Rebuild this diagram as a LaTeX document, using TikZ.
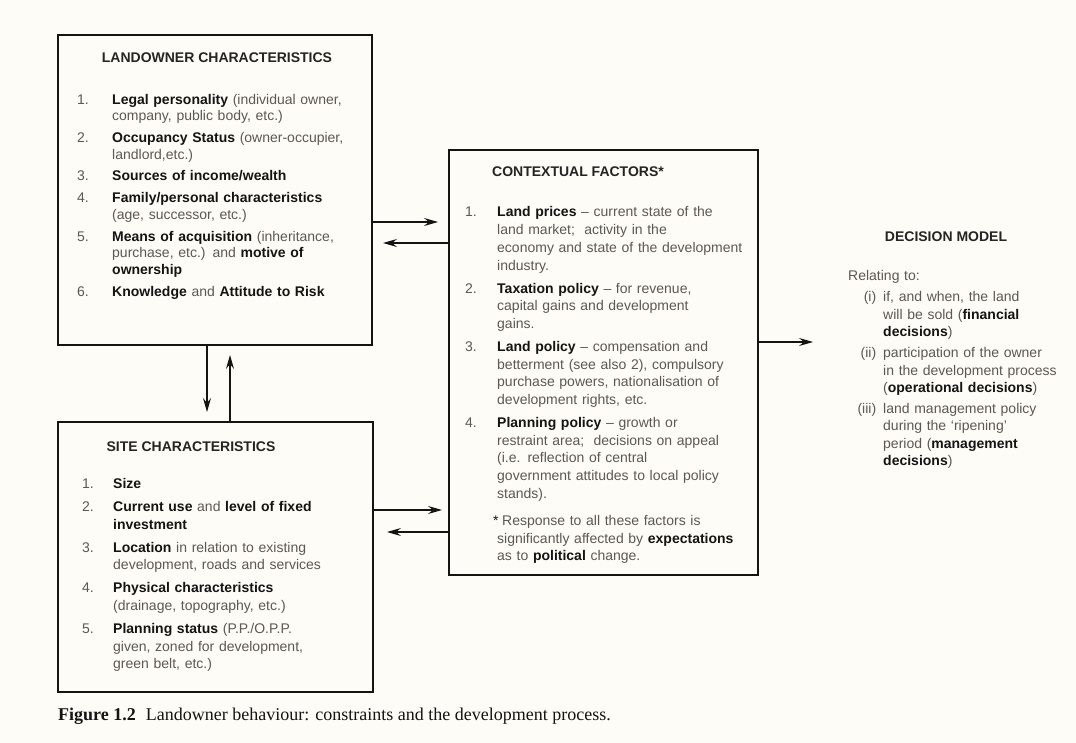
\documentclass[tikz,border=0pt]{standalone}
\usepackage{fontspec}
\setmainfont{Liberation Sans}
\newfontfamily\capfont{Liberation Serif}
\usetikzlibrary{arrows.meta}
\definecolor{paper}{RGB}{253,252,246}
\definecolor{ink}{RGB}{22,20,18}
\definecolor{txt}{RGB}{92,88,84}
\definecolor{head}{RGB}{38,36,34}
\newlength\numw
\newlength\itemgap
\newcommand{\B}[1]{{\bfseries\color{ink}#1}}
\newcommand{\nl}{\hfil\break}
\newcommand{\entry}[2]{\par\noindent\hangindent=\numw\hangafter=1\makebox[\numw][l]{\strut#1}#2\par\vspace{\itemgap}}
\newcommand{\rentry}[2]{\par\noindent\hangindent=\numw\hangafter=1\makebox[\numw][r]{\strut#1\hspace{7pt}}#2\par\vspace{\itemgap}}
\tikzset{
  box/.style={draw=ink, line width=1.2pt, inner sep=0pt, outer sep=0pt, anchor=north west},
  heavy/.style={draw=ink, line width=2.8pt},
  title/.style={font=\fontsize{14}{16}\selectfont\bfseries, text=head, inner sep=0pt},
  block/.style={anchor=north west, inner sep=0pt, text=txt, text width=#1},
  conn/.style={draw=ink, line width=1.1pt, -{Stealth[length=14pt,width=8pt,inset=5pt]}, shorten >=11pt},
}
\begin{document}
\begin{tikzpicture}[x=1pt, y=-1pt]
\fill[paper] (0,0) rectangle (1076,743);
\useasboundingbox (0,0) rectangle (1076,743);

% boxes
\node[box, minimum width=314pt, minimum height=310pt] (land) at (58,35) {};
\node[box, minimum width=315pt, minimum height=270pt] (site) at (58,422) {};
\node[box, minimum width=309pt, minimum height=425pt] (ctx) at (449,150) {};
\foreach \b in {land,site,ctx}{
  \draw[heavy] (\b.north east) -- (\b.south east) -- (\b.south west);
}

% landowner
\node[title] (landT) at (217,58) {LANDOWNER CHARACTERISTICS};
\node[block=290pt, font=\fontsize{14}{16.7}\selectfont] (landL) at (77,87.3) {%
\setlength\numw{35pt}\setlength\itemgap{5pt}%
\entry{1.}{\B{Legal personality} (individual owner,\nl company, public body, etc.)}
\entry{2.}{\B{Occupancy Status} (owner-occupier,\nl landlord,etc.)}
\entry{3.}{\B{Sources of income/wealth}}
\entry{4.}{\B{Family/personal characteristics}\nl (age, successor, etc.)}
\entry{5.}{\B{Means of acquisition} (inheritance,\nl purchase, etc.) and \B{motive of}\nl \B{ownership}}
\entry{6.}{\B{Knowledge} and \B{Attitude to Risk}}}; 

% site
\node[title] (siteT) at (191,447) {SITE CHARACTERISTICS};
\node[block=285pt, font=\fontsize{14}{17.6}\selectfont] (siteL) at (82,470.5) {%
\setlength\numw{31pt}\setlength\itemgap{5.5pt}%
\entry{1.}{\B{Size}}
\entry{2.}{\B{Current use} and \B{level of fixed}\nl \B{investment}}
\entry{3.}{\B{Location} in relation to existing\nl development, roads and services}
\entry{4.}{\B{Physical characteristics}\nl (drainage, topography, etc.)}
\entry{5.}{\B{Planning status} (P.P./O.P.P.\nl given, zoned for development,\nl green belt, etc.)}};

% contextual
\node[title] (ctxT) at (578,172) {CONTEXTUAL FACTORS*};
\node[block=288pt, font=\fontsize{14}{17.7}\selectfont] (ctxL) at (465,199.1) {%
\setlength\numw{32pt}\setlength\itemgap{5.3pt}%
\entry{1.}{\B{Land prices} \textendash{} current state of the\nl land market;\ \ activity in the\nl economy and state of the development\nl industry.}
\entry{2.}{\B{Taxation policy} \textendash{} for revenue,\nl capital gains and development\nl gains.}
\entry{3.}{\B{Land policy} \textendash{} compensation and\nl betterment (see also 2), compulsory\nl purchase powers, nationalisation of\nl development rights, etc.}
\entry{4.}{\B{Planning policy} \textendash{} growth or\nl restraint area;\ \ decisions on appeal\nl (i.e. reflection of central\nl government attitudes to local policy\nl stands).}
\vspace{4pt}%
\par\noindent\hangindent=\numw\hangafter=0\strut\hspace*{-4pt}{\color{ink}*}\hspace{3.5pt}Response to all these factors is\nl significantly affected by \B{expectations}\nl as to \B{political} change.\par};

% decision model
\node[title] (decT) at (946,237) {DECISION MODEL};
\node[block=230pt, font=\fontsize{14}{17.4}\selectfont] (decL) at (843,268.5) {%
\setlength\numw{40pt}\setlength\itemgap{3.6pt}%
\noindent\strut\hspace{5pt}Relating to:\par\vspace{3.6pt}%
\rentry{(i)}{if, and when, the land\nl will be sold (\B{financial}\nl \B{decisions})}
\rentry{(ii)}{participation of the owner\nl in the development process\nl (\B{operational decisions})}
\rentry{(iii)}{land management policy\nl during the `ripening'\nl period (\B{management}\nl \B{decisions})}};
\coordinate (decIn) at (824,342);

% caption
\node[anchor=base west, inner sep=0pt, text=ink, font=\capfont\fontsize{18}{21}\selectfont] (cap) at (58,720) {\textbf{Figure 1.2}\hspace{10pt}Landowner behaviour: constraints and the development process.};

% connectors
\path ([yshift=-32pt]land.east) coordinate (a1);
\draw[conn] (a1) -- (a1 -| ctx.west);
\path ([yshift=-53pt]land.east) coordinate (a2);
\draw[conn] (a2 -| ctx.west) -- (a2);
\path ([xshift=-8pt]land.south) coordinate (d1);
\draw[conn, shorten >=10pt] (d1) -- (d1 |- site.north);
\path ([xshift=15pt]land.south) coordinate (u1);
\draw[conn, shorten >=10pt] (u1 |- site.north) -- (u1);
\path ([yshift=47pt]site.east) coordinate (s1);
\draw[conn, shorten >=7pt] (s1) -- (s1 -| ctx.west);
\path ([yshift=25pt]site.east) coordinate (s2);
\draw[conn, shorten >=14pt] (s2 -| ctx.west) -- (s2);
\path ([yshift=20.5pt]ctx.east) coordinate (c1);
\draw[conn] (c1) -- (c1 -| decIn);
\end{tikzpicture}
\end{document}
